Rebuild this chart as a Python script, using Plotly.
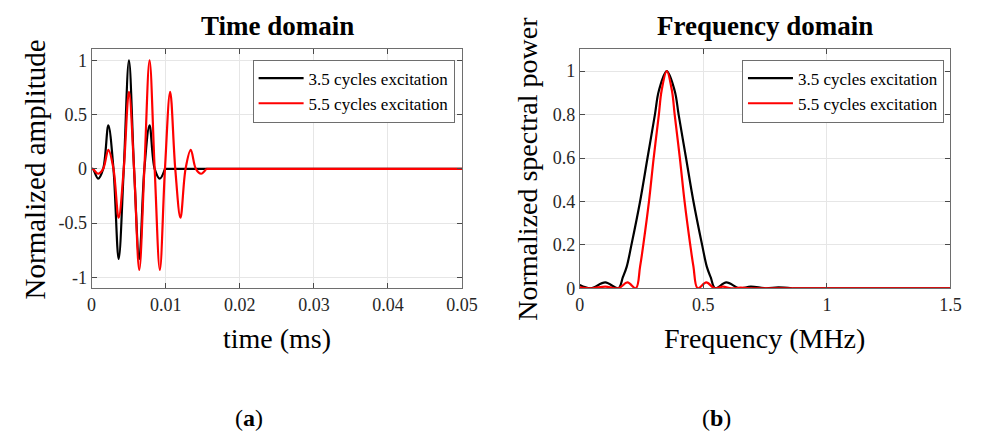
import plotly.graph_objects as go

# ---------------- data ----------------
# Time domain: points at peaks, troughs and zero crossings (ms, normalized amplitude)
t35 = [0.0, 0.00017, 0.00087, 0.00156, 0.00226, 0.00295, 0.00365, 0.00434, 0.00504,
       0.00573, 0.00643, 0.00712, 0.00782, 0.00851, 0.00921, 0.00990]
a35 = [0.0, 0.0, -0.09, 0.0, 0.40, 0.0, -0.83, 0.0, 1.0,
       0.0, -0.83, 0.0, 0.40, 0.0, -0.09, 0.0]
t35_tail = [0.00990, 0.05]
a35_tail = [0.0, 0.0]

t55 = [0.0, 0.00017, 0.00087, 0.00156, 0.00226, 0.00295, 0.00365, 0.00434, 0.00504,
       0.00573, 0.00643, 0.00712, 0.00782, 0.00851, 0.00921, 0.00990, 0.01060,
       0.01129, 0.01199, 0.01268, 0.01338, 0.01407, 0.01477, 0.01547]
a55 = [0.0, 0.0, -0.045, 0.0, 0.175, 0.0, -0.45, 0.0, 0.71,
       0.0, -0.93, 0.0, 1.0, 0.0, -0.93, 0.0, 0.71,
       0.0, -0.45, 0.0, 0.175, 0.0, -0.045, 0.0]
t55_tail = [0.01547, 0.05]
a55_tail = [0.0, 0.0]

# Frequency domain (MHz, normalized spectral power)
f35 = [0.0, 0.044, 0.103, 0.156, 0.174, 0.190, 0.209, 0.244, 0.274, 0.304, 0.320,
       0.352, 0.384, 0.400, 0.430, 0.460, 0.495, 0.514, 0.530, 0.548, 0.593, 0.646,
       0.692, 0.752, 0.804, 0.860]
p35 = [0.015, 0.0, 0.027, 0.0, 0.05, 0.1, 0.2, 0.4, 0.6, 0.8, 0.91,
       1.0, 0.91, 0.8, 0.6, 0.4, 0.2, 0.1, 0.05, 0.0, 0.027, 0.0,
       0.008, 0.0, 0.004, 0.0]
f35_tail = [0.860, 1.5]
p35_tail = [0.0, 0.0]

f55 = [0.0, 0.050, 0.103, 0.156, 0.193, 0.227, 0.244, 0.257, 0.280, 0.299, 0.320, 0.331,
       0.352, 0.373, 0.384, 0.405, 0.424, 0.447, 0.460, 0.477, 0.512, 0.546, 0.579,
       0.613, 0.650, 0.690]
p55 = [0.005, 0.0, 0.008, 0.0, 0.027, 0.0, 0.1, 0.2, 0.4, 0.6, 0.8, 0.91,
       1.0, 0.91, 0.8, 0.6, 0.4, 0.2, 0.1, 0.0, 0.027, 0.0, 0.008,
       0.0, 0.003, 0.0]
f55_tail = [0.690, 1.5]
p55_tail = [0.0, 0.0]

series_names = ["3.5 cycles excitation", "5.5 cycles excitation"]
series_colors = ["#000000", "#ff0000"]

time_ticks = [0, 0.01, 0.02, 0.03, 0.04, 0.05]
time_ticktext = ["0", "0.01", "0.02", "0.03", "0.04", "0.05"]
amp_ticks = [-1, -0.5, 0, 0.5, 1]
amp_ticktext = ["-1", "-0.5", "0", "0.5", "1"]
freq_ticks = [0, 0.5, 1, 1.5]
freq_ticktext = ["0", "0.5", "1", "1.5"]
pow_ticks = [0, 0.2, 0.4, 0.6, 0.8, 1]
pow_ticktext = ["0", "0.2", "0.4", "0.6", "0.8", "1"]

# ---------------- figure ----------------
FONT = "Liberation Serif, Times New Roman, serif"
W, H = 986, 441
LW = 2.2

fig = go.Figure()

def add(x, y, name, color, xa, ya, leg, show, smooth=True):
    fig.add_trace(go.Scatter(
        x=x, y=y, mode="lines", name=name, xaxis=xa, yaxis=ya,
        line=dict(color=color, width=LW, shape="spline" if smooth else "linear",
                  smoothing=1.0 if smooth else None),
        legend=leg, legendgroup=leg + name, showlegend=show))

add(t35, a35, series_names[0], series_colors[0], "x", "y", "legend", True)
add(t35_tail, a35_tail, series_names[0], series_colors[0], "x", "y", "legend", False, False)
add(t55, a55, series_names[1], series_colors[1], "x", "y", "legend", True)
add(t55_tail, a55_tail, series_names[1], series_colors[1], "x", "y", "legend", False, False)

add(f35, p35, series_names[0], series_colors[0], "x2", "y2", "legend2", True)
add(f35_tail, p35_tail, series_names[0], series_colors[0], "x2", "y2", "legend2", False, False)
add(f55, p55, series_names[1], series_colors[1], "x2", "y2", "legend2", True)
add(f55_tail, p55_tail, series_names[1], series_colors[1], "x2", "y2", "legend2", False, False)

y_dom = [(H - 295) / H, (H - 50.6) / H]
x1_dom = [88.5 / W, 467 / W]
x2_dom = [587.3 / W, 966 / W]

axis_common = dict(showline=True, linecolor="#6e6e6e", linewidth=1, mirror="ticks",
                   ticks="inside", ticklen=5, tickcolor="#4a4a4a", tickwidth=1,
                   showgrid=True, gridcolor="#e6e6e6", gridwidth=1, zeroline=False,
                   tickfont=dict(family=FONT, size=18, color="#262626"))

legend_common = dict(xanchor="left", yanchor="top", bgcolor="white",
                     bordercolor="#6e6e6e", borderwidth=1, tracegroupgap=0, itemwidth=45,
                     font=dict(family=FONT, size=17, color="#000000"), traceorder="normal")

fig.update_layout(
    width=W, height=H, margin=dict(l=0, r=0, t=0, b=0),
    paper_bgcolor="white", plot_bgcolor="white",
    font=dict(family=FONT, color="#000000"),
    xaxis=dict(domain=x1_dom, range=[0, 0.05], tickvals=time_ticks, ticktext=time_ticktext,
               anchor="y", **axis_common),
    yaxis=dict(domain=y_dom, range=[-1.1, 1.1], tickvals=amp_ticks, ticktext=amp_ticktext,
               anchor="x", **axis_common),
    xaxis2=dict(domain=x2_dom, range=[0, 1.5], tickvals=freq_ticks, ticktext=freq_ticktext,
                anchor="y2", **axis_common),
    yaxis2=dict(domain=y_dom, range=[0, 1.1], tickvals=pow_ticks, ticktext=pow_ticktext,
                anchor="x2", **axis_common),
    legend=dict(x=253 / W, y=(H - 61) / H, **legend_common),
    legend2=dict(x=753 / W, y=(H - 61) / H, **legend_common),
)

def ann(text, x, y, size, angle=0):
    fig.add_annotation(text=text, x=x / W, y=(H - y) / H, xref="paper", yref="paper",
                       showarrow=False, xanchor="center", yanchor="middle", textangle=angle,
                       font=dict(family=FONT, size=size, color="#000000"))

ann("<b>Time domain</b>", 278, 27, 27)
ann("<b>Frequency domain</b>", 776.5, 27, 27)
ann("time (ms)", 278, 346, 28)
ann("Frequency (MHz)", 776.5, 346, 28)
ann("Normalized amplitude", 31, 173, 29, -90)
ann("Normalized spectral power", 533, 173, 28, -90)
ann("(<b>a</b>)", 249, 428, 24)
ann("(<b>b</b>)", 727, 428, 24)

fig.write_html("out.html")
